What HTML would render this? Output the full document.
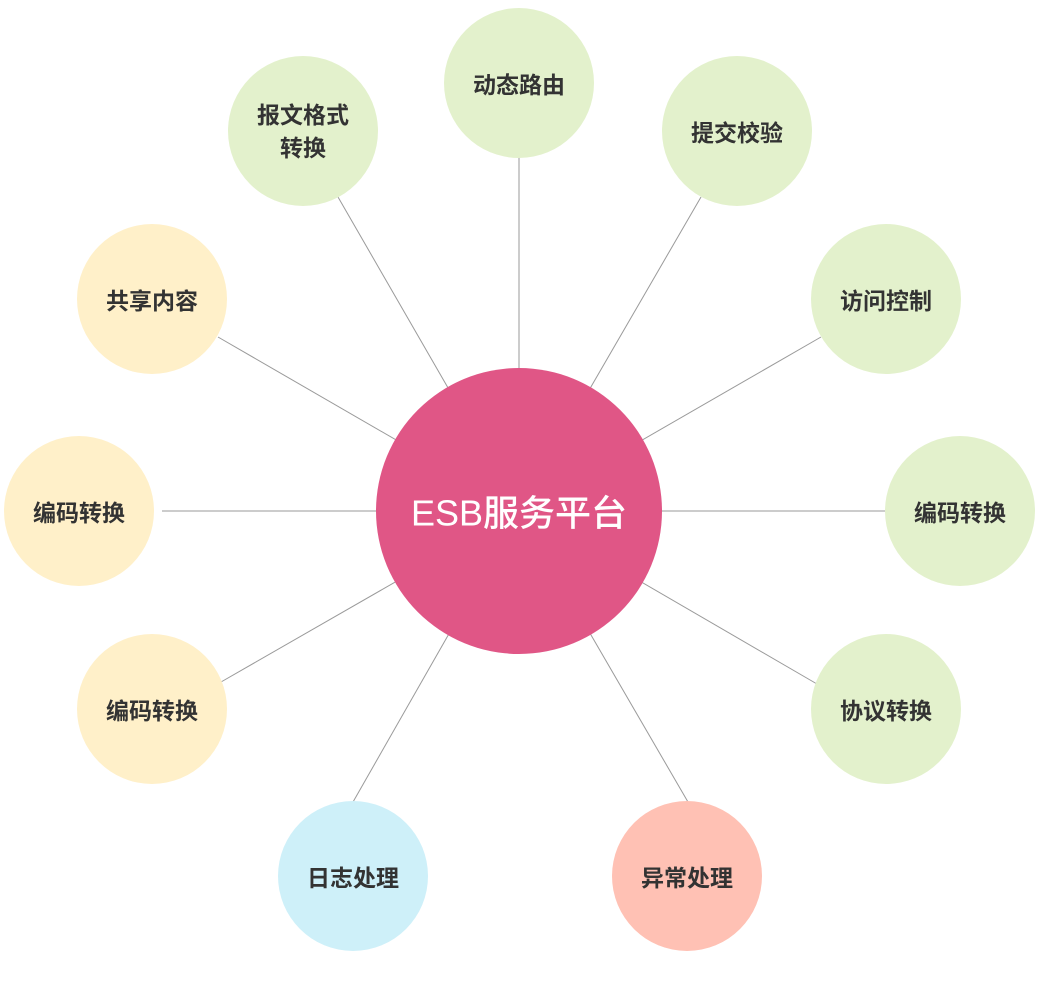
<!DOCTYPE html>
<html><head><meta charset="utf-8"><style>
html,body{margin:0;padding:0;background:#fff;}
svg{display:block}
text{font-family:"Liberation Sans","Noto Sans CJK SC",sans-serif;font-weight:bold;fill:#333;font-size:23px;text-anchor:middle;dominant-baseline:central}
</style></head><body>
<svg width="1040" height="998" viewBox="0 0 1040 998">
<g stroke="#9a9a9a" stroke-width="1">
<line x1="519" y1="511" x2="519" y2="157"/>
<line x1="519" y1="511" x2="701" y2="197"/>
<line x1="519" y1="511" x2="821" y2="337"/>
<line x1="519" y1="511" x2="886" y2="511"/>
<line x1="519" y1="511" x2="817" y2="684"/>
<line x1="519" y1="511" x2="688" y2="802"/>
<line x1="519" y1="511" x2="353" y2="802"/>
<line x1="519" y1="511" x2="221" y2="682"/>
<line x1="519" y1="511" x2="162" y2="511"/>
<line x1="519" y1="511" x2="218" y2="337"/>
<line x1="519" y1="511" x2="338" y2="197"/>
</g>
<circle cx="519" cy="511" r="143" fill="#e05686"/>
<text x="519" y="513" style="fill:#fff;font-size:36px;font-weight:500">ESB服务平台</text>
<g transform="translate(0,2)">
<circle cx="519" cy="81" r="75" fill="#e3f1cc"/><text x="519" y="83">动态路由</text>
<circle cx="737" cy="129" r="75" fill="#e3f1cc"/><text x="737" y="131">提交校验</text>
<circle cx="886" cy="297" r="75" fill="#e3f1cc"/><text x="886" y="299">访问控制</text>
<circle cx="960" cy="509" r="75" fill="#e3f1cc"/><text x="960" y="511">编码转换</text>
<circle cx="886" cy="707" r="75" fill="#e3f1cc"/><text x="886" y="709">协议转换</text>
<circle cx="687" cy="874" r="75" fill="#ffc1b4"/><text x="687" y="876">异常处理</text>
<circle cx="353" cy="874" r="75" fill="#cef0f9"/><text x="353" y="876">日志处理</text>
<circle cx="152" cy="707" r="75" fill="#fff0c9"/><text x="152" y="709">编码转换</text>
<circle cx="79" cy="509" r="75" fill="#fff0c9"/><text x="79" y="511">编码转换</text>
<circle cx="152" cy="297" r="75" fill="#fff0c9"/><text x="152" y="299">共享内容</text>
<circle cx="303" cy="129" r="75" fill="#e3f1cc"/><text x="303" y="113">报文格式</text><text x="303" y="146">转换</text>
</g>
</svg>
</body></html>
